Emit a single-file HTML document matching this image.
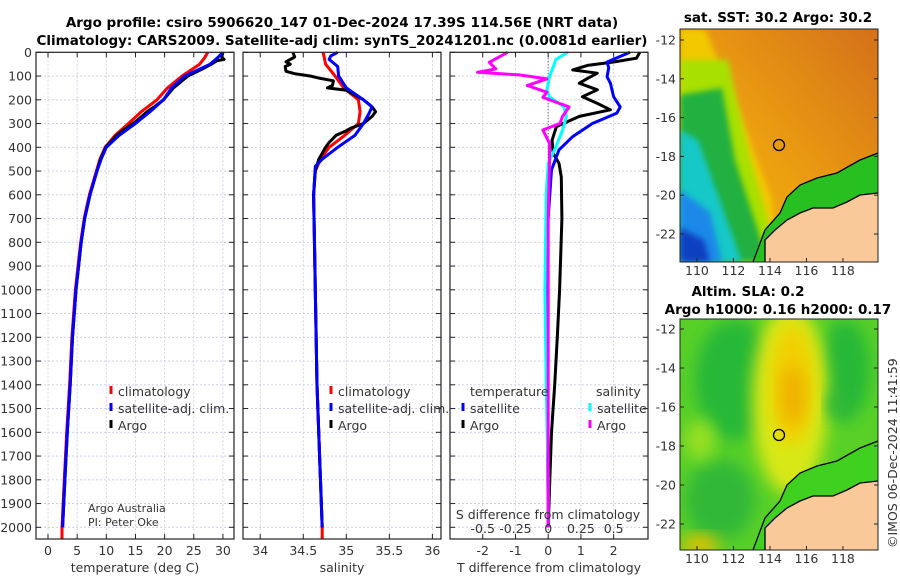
<!DOCTYPE html>
<html><head><meta charset="utf-8"><style>
body{margin:0;background:#fff}
svg{display:block;font-family:"DejaVu Sans","Liberation Sans",sans-serif}
.t{font-size:12.5px;fill:#333}
.ti{font-size:13.5px;font-weight:bold;fill:#000}
</style></head><body>
<svg id="c" width="900" height="580" viewBox="0 0 900 580">
<defs>
<filter id="bl" x="-20%" y="-20%" width="140%" height="140%"><feGaussianBlur stdDeviation="3"/></filter>
<filter id="bl2" x="-30%" y="-30%" width="160%" height="160%"><feGaussianBlur stdDeviation="8"/></filter>
<clipPath id="m1c"><rect x="680" y="29" width="198" height="233"/></clipPath>
<clipPath id="m2c"><rect x="680" y="319" width="198" height="231"/></clipPath>
<linearGradient id="sstg" x1="0" y1="1" x2="1" y2="0"><stop offset="0" stop-color="#f0b800"/><stop offset="0.45" stop-color="#eca010"/><stop offset="1" stop-color="#d4701a"/></linearGradient>
</defs>
<text class="ti" x="342" y="27" text-anchor="middle">Argo profile: csiro 5906620_147 01-Dec-2024 17.39S 114.56E (NRT data)</text>
<text class="ti" x="342" y="45" text-anchor="middle">Climatology: CARS2009. Satellite-adj clim: synTS_20241201.nc (0.0081d earlier)</text>
<g id="panels"></g>
<g>
<text class="ti" x="778" y="22" text-anchor="middle">sat. SST: 30.2 Argo: 30.2</text>
<g clip-path="url(#m1c)">
<rect x="680" y="29" width="198" height="233" fill="url(#sstg)"/>
<polygon points="680,29 705,29 742,120 772,200 778,262 680,262" fill="#f2c800" filter="url(#bl)"/>
<polygon points="680,60 728,60 748,150 780,262 680,262" fill="#a8e000" filter="url(#bl)"/>
<polygon points="680,95 722,88 735,160 768,262 680,262" fill="#20b040" filter="url(#bl)"/>
<polygon points="680,130 698,140 718,195 742,262 680,262" fill="#14c8c8" filter="url(#bl)"/>
<polygon points="680,190 710,212 722,262 680,262" fill="#1a88e8" filter="url(#bl)"/>
<polygon points="680,228 704,240 710,262 680,262" fill="#1040c0" filter="url(#bl)"/>
<polygon points="753,262 765,230 780,213 787,197 800,185 817,178 837,173 860,160 878,153 878,195 860,195 847,202 833,208 813,208 800,213 787,220 775,230 765,240 765,262" fill="#28c020"/>
<polygon points="765,262 765,240 775,230 787,220 800,213 813,208 833,208 847,202 860,195 878,193 878,262" fill="#f9c99a"/>
<polyline points="753,262 765,230 780,213 787,197 800,185 817,178 837,173 860,160 878,153" fill="none" stroke="#000" stroke-width="1.3"/>
<polyline points="765,262 765,240 775,230 787,220 800,213 813,208 833,208 847,202 860,195 878,193" fill="none" stroke="#000" stroke-width="1.3"/>
<circle cx="779" cy="145" r="5.5" fill="none" stroke="#000" stroke-width="1.3"/>
</g>
<rect x="680" y="29" width="198" height="233" fill="none" stroke="#222" stroke-width="1"/>
</g>
<g>
<text class="ti" x="748" y="296" text-anchor="middle">Altim. SLA: 0.2</text>
<text class="ti" x="778" y="314" text-anchor="middle">Argo h1000: 0.16 h2000: 0.17</text>
<g clip-path="url(#m2c)">
<rect x="680" y="319" width="198" height="231" fill="#58d028"/>
<ellipse cx="735" cy="380" rx="40" ry="60" fill="#28b838" filter="url(#bl2)"/>
<ellipse cx="845" cy="370" rx="25" ry="50" fill="#28b838" filter="url(#bl2)"/>
<ellipse cx="720" cy="500" rx="35" ry="40" fill="#30b838" filter="url(#bl2)"/>
<ellipse cx="700" cy="440" rx="15" ry="20" fill="#98e020" filter="url(#bl2)"/>
<ellipse cx="790" cy="400" rx="38" ry="95" fill="#d8e818" filter="url(#bl2)"/>
<ellipse cx="792" cy="385" rx="22" ry="60" fill="#f2d000" filter="url(#bl2)"/>
<ellipse cx="793" cy="395" rx="12" ry="30" fill="#eeb000" filter="url(#bl2)"/>
<ellipse cx="837" cy="405" rx="10" ry="15" fill="#30b838" filter="url(#bl2)"/>
<ellipse cx="700" cy="545" rx="20" ry="10" fill="#e8c000" filter="url(#bl2)"/>
<polygon points="753,550 765,518 780,501 787,485 800,473 817,466 837,461 860,448 878,441 878,483 860,483 847,490 833,496 813,496 800,501 787,508 775,518 765,528 765,550" fill="#40d020"/>
<polygon points="765,550 765,528 775,518 787,508 800,501 813,496 833,496 847,490 860,483 878,481 878,550" fill="#f9c99a"/>
<polyline points="753,550 765,518 780,501 787,485 800,473 817,466 837,461 860,448 878,441" fill="none" stroke="#000" stroke-width="1.3"/>
<polyline points="765,550 765,528 775,518 787,508 800,501 813,496 833,496 847,490 860,483 878,481" fill="none" stroke="#000" stroke-width="1.3"/>
<circle cx="779" cy="435" r="5.5" fill="none" stroke="#000" stroke-width="1.3"/>
</g>
<rect x="680" y="319" width="198" height="231" fill="none" stroke="#222" stroke-width="1"/>
</g>
<g id="maps"></g>
<text class="t" transform="translate(897,548) rotate(-90)">©IMOS 06-Dec-2024 11:41:59</text>
</svg>
<script>
const depthTicks=[0,100,200,300,400,500,600,700,800,900,1000,1100,1200,1300,1400,1500,1600,1700,1800,1900,2000];
const tempTicks=[0,5,10,15,20,25,30];
const salTicks=[34,34.5,35,35.5,36];
const dTTicks=[-2,-1,0,1,2];
const dSTicks=[-0.5,-0.25,0,0.25,0.5];
const dSTickLabels=["-0.5","-0.25","0","0.25","0.5"];
const tempClimDepth=[0,25,50,100,150,200,250,300,350,400,450,500,600,700,800,1000,1200,1400,1600,1800,2000,2050];
const tempClim=[27.4,26.8,26,23,20.5,18.7,16,13.8,11.5,9.8,8.9,8.3,7.1,6.2,5.6,4.7,4.1,3.7,3.2,2.8,2.4,2.4];
const tempSatDepth=[0,25,50,100,150,200,250,300,350,400,450,500,600,700,800,1000,1200,1400,1600,1800,2000];
const tempSat=[30,29,27.8,23.5,21.2,19.8,17.5,15,12.2,10,9.1,8.4,7.2,6.3,5.7,4.8,4.2,3.8,3.3,2.9,2.5];
const tempArgoDepth=[0,20,30,35,50,70,100,130,150,180,200,230,250,280,300,330,350,400,450,500,600,700,800,1000,1200,1400,1600,1800,2000];
const tempArgo=[30,29.8,30.2,29,28,26.5,24,22.5,21.5,20.5,19.8,18.2,17,15.6,14.6,12.8,11.8,9.9,9,8.4,7.2,6.3,5.7,4.8,4.2,3.8,3.3,2.9,2.5];
const salClimDepth=[0,50,100,150,200,250,300,350,400,450,500,600,1000,1400,2000,2050];
const salClim=[34.73,34.76,34.87,34.97,35.14,35.16,35.14,34.98,34.8,34.7,34.64,34.62,34.64,34.66,34.72,34.72];
const salSatDepth=[0,15,30,60,100,150,200,230,260,300,350,400,450,480,600,1000,1400,2000];
const salSat=[34.9,34.82,34.8,34.9,34.91,35.0,35.2,35.3,35.26,35.2,35.1,34.9,34.72,34.64,34.62,34.64,34.66,34.72];
const salArgoDepth=[0,20,40,50,60,80,90,100,110,120,140,150,160,180,200,230,250,270,300,320,330,350,380,400,450,500,600,800,1000,1400,2000];
const salArgo=[34.38,34.4,34.3,34.35,34.29,34.3,34.4,34.58,34.7,34.85,34.84,34.78,35.0,35.1,35.2,35.3,35.34,35.3,35.2,35.05,35.0,34.88,34.8,34.76,34.68,34.64,34.62,34.63,34.64,34.66,34.72];
const dTArgoDepth=[0,25,41,55,74,88,110,130,158,187,215,242,270,313,370,425,468,525,700,1000,1200,1400,1600,1800,2000];
const dTArgo=[2.8,2.7,2.0,1.2,0.75,1.5,1.2,0.95,1.5,1.05,1.5,1.9,0.95,0.25,0.12,0.15,0.33,0.4,0.42,0.35,0.28,0.2,0.1,0.05,0];
const dTSatDepth=[0,41,65,103,130,187,230,256,300,355,411,495,800,1200,1600,2000];
const dTSat=[2.5,1.8,1.85,1.8,1.9,2.0,2.2,2.1,1.35,0.75,0.33,0.1,-0.05,-0.05,-0.02,0];
const dSSatDepth=[0,30,103,160,187,230,270,327,397,468,600,1000,1400,1800,2000];
const dSSat=[0.15,0.06,0.01,-0.01,0.01,0.12,0.14,0.11,0.06,0,-0.015,-0.025,-0.015,0,0];
const dSArgoDepth=[0,42,70,84,95,112,140,168,190,230,270,300,327,383,468,700,1000,1500,2000];
const dSArgo=[-0.31,-0.45,-0.4,-0.54,-0.22,-0.01,-0.16,-0.01,-0.04,0.16,0.11,0.09,-0.04,0.01,0.01,0,0,0,0];
const mapLonTicks=[110,112,114,116,118];
const mapLatTicks=[-12,-14,-16,-18,-20,-22];

const NS='http://www.w3.org/2000/svg';
const root=document.getElementById('panels');
function mk(tag,attrs,parent){const e=document.createElementNS(NS,tag);for(const k in attrs)e.setAttribute(k,attrs[k]);(parent||root).appendChild(e);return e;}
const top0=52.3, bot=539;
const yS=d=>top0+d*(527.3-top0)/2000;
function panel(name,x0,x1,xmin,xmax){return {name,x0,x1,xs:v=>x0+(v-xmin)/(xmax-xmin)*(x1-x0)};}
const P1=panel('temperature',36,234,-2.06,31.9);
const P2=panel('salinity',243,441,33.8,36.1);
const P3=panel('difference',450,648,-3.0,3.05);
const sS=v=>P3.xs(v*4);

function frame(P){
  const g=mk('g',{});
  
  
  depthTicks.forEach(d=>{mk('line',{x1:P.x0,x2:P.x1,y1:yS(d),y2:yS(d),stroke:'#c4c8e8','stroke-width':0.8,'stroke-dasharray':'2,2'},g);
    mk('line',{x1:P.x0,x2:P.x0+5,y1:yS(d),y2:yS(d),stroke:'#222'},g);mk('line',{x1:P.x1-5,x2:P.x1,y1:yS(d),y2:yS(d),stroke:'#222'},g);});
  return g;
}
function vgrid(g,P,ticks,xf){ticks.forEach(v=>{const x=xf(v);mk('line',{x1:x,x2:x,y1:top0,y2:bot,stroke:'#c4c8e8','stroke-width':0.8,'stroke-dasharray':'2,2'},g);
  mk('line',{x1:x,x2:x,y1:bot,y2:bot-5,stroke:'#222'},g);mk('line',{x1:x,x2:x,y1:top0,y2:top0+5,stroke:'#222'},g);});}
function box(g,P){mk('rect',{x:P.x0,y:top0,width:P.x1-P.x0,height:bot-top0,fill:'none',stroke:'#222','stroke-width':1.2},g);}
function line(g,xf,depths,vals,color,name,w){
  const pts=depths.map((d,i)=>xf(vals[i]).toFixed(1)+','+yS(d).toFixed(1)).join(' ');
  const p=mk('polyline',{points:pts,fill:'none',stroke:color,'stroke-width':w||3,'stroke-linejoin':'round'},g);
  
  
}
function txt(g,x,y,s,anchor,name,size){const t=mk('text',{x:x,y:y,'text-anchor':anchor||'start',class:'t'},g);if(size)t.setAttribute('style','font-size:'+size+'px');t.textContent=s;
  
  return t;}
function legItem(g,x,y,color,label,name){mk('line',{x1:x,x2:x,y1:y-10,y2:y-2,stroke:color,'stroke-width':3},g);txt(g,x+7,y,label,'start',name);}

let g=frame(P1); vgrid(g,P1,tempTicks,P1.xs);
depthTicks.forEach(d=>txt(g,32,yS(d)+4.5,String(d),'end','depth-tick-label'));
tempTicks.forEach(v=>txt(g,P1.xs(v),555,String(v),'middle','temp-tick-label'));
txt(g,135,572,'temperature (deg C)','middle','temperature-axis-title');
line(g,P1.xs,tempClimDepth,tempClim,'#f00','temp-climatology-line');
line(g,P1.xs,tempArgoDepth,tempArgo,'#000','temp-argo-line');
line(g,P1.xs,tempSatDepth,tempSat,'#00f','temp-satellite-line');
legItem(g,111,396,'#f00','climatology','legend-climatology');
legItem(g,111,413,'#00f','satellite-adj. clim.','legend-satellite-adj');
legItem(g,111,430,'#000','Argo','legend-argo');
txt(g,88,512,'Argo Australia','start','credit-argo-australia',11);
txt(g,88,526,'PI: Peter Oke','start','credit-pi',11);
box(g,P1);

g=frame(P2); vgrid(g,P2,salTicks,P2.xs);
salTicks.forEach(v=>txt(g,P2.xs(v),555,String(v),'middle','salinity-tick-label'));
txt(g,342,572,'salinity','middle','salinity-axis-title');
line(g,P2.xs,salClimDepth,salClim,'#f00','sal-climatology-line');
line(g,P2.xs,salArgoDepth,salArgo,'#000','sal-argo-line');
line(g,P2.xs,salSatDepth,salSat,'#00f','sal-satellite-line');
legItem(g,331,396,'#f00','climatology','legend-climatology');
legItem(g,331,413,'#00f','satellite-adj. clim.','legend-satellite-adj');
legItem(g,331,430,'#000','Argo','legend-argo');
box(g,P2);

g=frame(P3); vgrid(g,P3,dTTicks,P3.xs);
mk('line',{x1:P3.xs(0),x2:P3.xs(0),y1:top0,y2:bot,stroke:'#444','stroke-width':1,'stroke-dasharray':'1,2'},g);
dTTicks.forEach(v=>txt(g,P3.xs(v),555,String(v),'middle','dt-tick-label'));
txt(g,549,572,'T difference from climatology','middle','dt-axis-title');
line(g,P3.xs,dTArgoDepth,dTArgo,'#000','dt-argo-line');
line(g,P3.xs,dTSatDepth,dTSat,'#00f','dt-satellite-line');
line(g,sS,dSSatDepth,dSSat,'#0ff','ds-satellite-line');
line(g,sS,dSArgoDepth,dSArgo,'#f0f','ds-argo-line');
txt(g,470,396,'temperature','start','legend-temperature-heading');
txt(g,596,396,'salinity','start','legend-salinity-heading');
legItem(g,463,413,'#00f','satellite','legend-t-satellite');
legItem(g,463,430,'#000','Argo','legend-t-argo');
legItem(g,590,413,'#0ff','satellite','legend-s-satellite');
legItem(g,590,430,'#f0f','Argo','legend-s-argo');
txt(g,548,519,'S difference from climatology','middle','ds-axis-title');
dSTicks.forEach((v,i)=>txt(g,sS(v),533,dSTickLabels[i],'middle','ds-tick-label'));
box(g,P3);

const mg=document.getElementById('maps');
const lonX=l=>680+(l-109.07)*18.25;
[[29,40,19.4,275],[319,329,19.5,563]].forEach(([t0,y12,sc,ly])=>{
  mapLatTicks.forEach(lat=>{const y=y12+(-12-lat)*sc;
    mk('line',{x1:680,x2:684,y1:y,y2:y,stroke:'#222'},mg);mk('line',{x1:874,x2:878,y1:y,y2:y,stroke:'#222'},mg);
    txt(mg,676,y+4.5,String(lat),'end','map-lat-label');});
  mapLonTicks.forEach(lon=>{const x=lonX(lon);
    mk('line',{x1:x,x2:x,y1:ly-13,y2:ly-17,stroke:'#222'},mg);
    txt(mg,x,ly,String(lon),'middle','map-lon-label');});
});
</script>
</body></html>
